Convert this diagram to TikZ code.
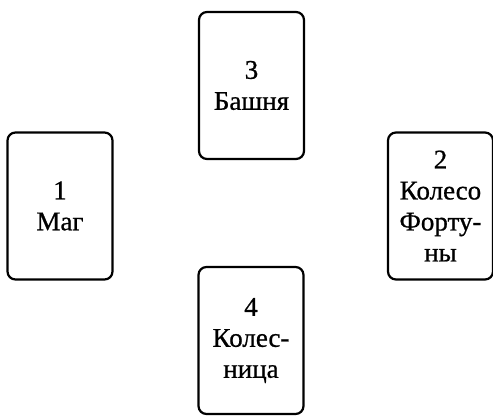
\documentclass[tikz,border=0pt]{standalone}
\usepackage{fontspec}
\setmainfont{Liberation Serif}
\newfontfamily\cardfont[FakeBold=0.8]{Liberation Serif}
\usepackage{tikz}

\begin{document}
\begin{tikzpicture}[x=1pt, y=-1pt,
    card/.style={draw=black, line width=2.2pt, rounded corners=8pt,
      minimum width=105pt, minimum height=147pt, align=center,
      inner sep=0pt, font=\cardfont\fontsize{27}{31}\selectfont}]
  \useasboundingbox (0,0) rectangle (493,416);
  \clip (0,0) rectangle (493,416);

  % Cards
  \node[card] (tower)   at (251.5,85.5) {3\\Башня};
  \node[card] (magus)   at (60,206)     {1\\Маг};
  \node[card] (wheel)   at (440.5,206)  {2\\Колесо\\Форту-\\ны};
  \node[card] (chariot) at (251,340.5)  {4\\Колес-\\ница};
\end{tikzpicture}
\end{document}
